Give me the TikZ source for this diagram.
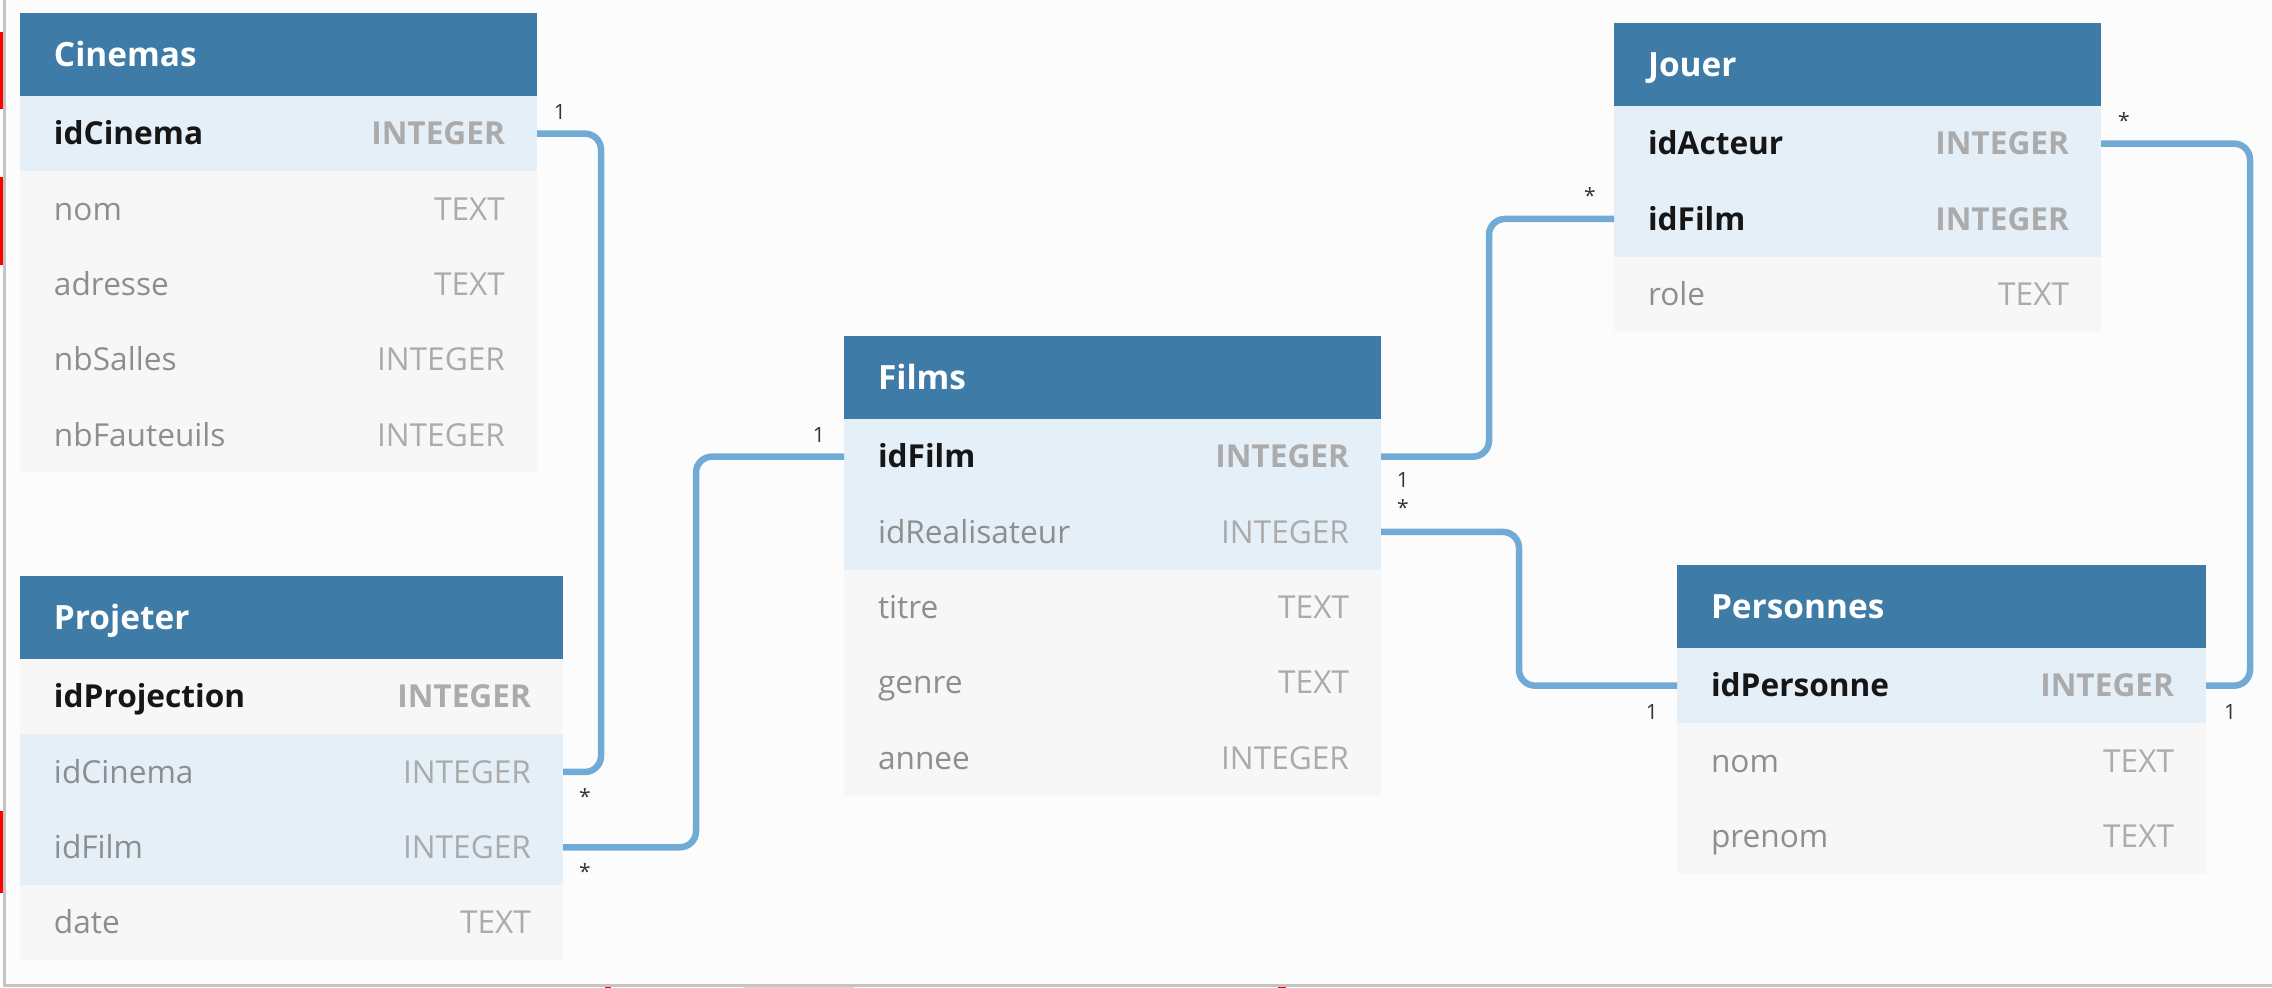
\documentclass[tikz,border=0pt]{standalone}
\usepackage{fontspec}
\setmainfont{Open Sans}
\usetikzlibrary{positioning}

\definecolor{headblue}{HTML}{3E7BA6}
\definecolor{keyfill}{HTML}{E4EFF7}
\definecolor{rowfill}{HTML}{F7F7F7}
\definecolor{pagefill}{HTML}{FCFCFC}
\definecolor{framegray}{HTML}{C4C4C4}
\definecolor{linkblue}{HTML}{72AAD6}
\definecolor{namegray}{HTML}{8E8E8E}
\definecolor{typegray}{HTML}{ABABAB}
\definecolor{keyblack}{HTML}{161616}
\definecolor{cardgray}{HTML}{333333}
\definecolor{pinkmark}{HTML}{F6C9C9}

\tikzset{
  tablehead/.style={fill=headblue, text=white, font=\fontsize{9.5}{11}\selectfont\bfseries, minimum height=0.83cm, inner xsep=0.34cm, inner ysep=0pt, outer sep=0pt, anchor=north west, align=left, text height=6.8pt, text depth=0pt},
  field/.style={minimum height=0.753cm, inner xsep=0.34cm, inner ysep=0pt, outer sep=0pt, align=left, font=\fontsize{9}{11}\selectfont, text=namegray, text height=6.4pt, text depth=0pt},
  keyrow/.style={field, fill=keyfill},
  plainrow/.style={field, fill=rowfill},
  pk/.style={font=\fontsize{9}{11}\selectfont\bfseries, text=keyblack},
  typecell/.style={font=\fontsize{9}{11}\selectfont, text=typegray, inner sep=0pt, outer sep=0pt, text height=6.4pt, text depth=0pt},
  pktype/.style={typecell, font=\fontsize{9}{11}\selectfont\bfseries},
  link/.style={draw=linkblue, line width=0.065cm, rounded corners=0.16cm},
  card/.style={font=\fontsize{6}{7}\selectfont, text=cardgray, inner sep=0pt, text height=4.3pt, text depth=0pt},
  cinemasw/.style={text width=4.49cm},
  projeterw/.style={text width=4.75cm},
  filmsw/.style={text width=4.69cm},
  jouerw/.style={text width=4.19cm},
  personnesw/.style={text width=4.61cm}
}

\begin{document}
\begin{tikzpicture}
\useasboundingbox (0,0) rectangle (22.72,-9.88);
\fill[white] (0,0) rectangle (22.72,-9.88);
\fill[pagefill] (0,0) rectangle (22.72,-9.85);
\draw[framegray, line width=0.025cm] (0.045,0) -- (0.045,-9.855) -- (22.72,-9.855);
% screen marks
\fill[red] (0,-0.32) rectangle (0.03,-1.09);
\fill[red] (0,-1.77) rectangle (0.03,-2.65);
\fill[red] (0,-8.11) rectangle (0.03,-8.93);
\fill[red] (6.05,-9.87) rectangle (6.11,-9.88);
\fill[pinkmark] (7.44,-9.87) rectangle (8.54,-9.88);
\fill[red] (12.78,-9.87) rectangle (12.86,-9.88);

% Cinemas
\node[tablehead, cinemasw] (cinHead) at (0.20,-0.13) {Cinemas};
\node[keyrow, pk, cinemasw, below=0pt of cinHead] (cinId) {idCinema};
\node[plainrow, cinemasw, below=0pt of cinId] (cinNom) {nom};
\node[plainrow, cinemasw, below=0pt of cinNom] (cinAdr) {adresse};
\node[plainrow, cinemasw, below=0pt of cinAdr] (cinSal) {nbSalles};
\node[plainrow, cinemasw, below=0pt of cinSal] (cinFau) {nbFauteuils};
\node[pktype, left=0.32cm of cinId.east] (cinIdT) {INTEGER};
\node[typecell, left=0.32cm of cinNom.east] (cinNomT) {TEXT};
\node[typecell, left=0.32cm of cinAdr.east] (cinAdrT) {TEXT};
\node[typecell, left=0.32cm of cinSal.east] (cinSalT) {INTEGER};
\node[typecell, left=0.32cm of cinFau.east] (cinFauT) {INTEGER};

% Projeter
\node[tablehead, projeterw] (proHead) at (0.20,-5.76) {Projeter};
\node[plainrow, pk, projeterw, below=0pt of proHead] (proId) {idProjection};
\node[keyrow, projeterw, below=0pt of proId] (proCin) {idCinema};
\node[keyrow, projeterw, below=0pt of proCin] (proFilm) {idFilm};
\node[plainrow, projeterw, below=0pt of proFilm] (proDate) {date};
\node[pktype, left=0.32cm of proId.east] (proIdT) {INTEGER};
\node[typecell, left=0.32cm of proCin.east] (proCinT) {INTEGER};
\node[typecell, left=0.32cm of proFilm.east] (proFilmT) {INTEGER};
\node[typecell, left=0.32cm of proDate.east] (proDateT) {TEXT};

% Films
\node[tablehead, filmsw] (filHead) at (8.44,-3.36) {Films};
\node[keyrow, pk, filmsw, below=0pt of filHead] (filId) {idFilm};
\node[keyrow, filmsw, below=0pt of filId] (filReal) {idRealisateur};
\node[plainrow, filmsw, below=0pt of filReal] (filTit) {titre};
\node[plainrow, filmsw, below=0pt of filTit] (filGen) {genre};
\node[plainrow, filmsw, below=0pt of filGen] (filAnn) {annee};
\node[pktype, left=0.32cm of filId.east] (filIdT) {INTEGER};
\node[typecell, left=0.32cm of filReal.east] (filRealT) {INTEGER};
\node[typecell, left=0.32cm of filTit.east] (filTitT) {TEXT};
\node[typecell, left=0.32cm of filGen.east] (filGenT) {TEXT};
\node[typecell, left=0.32cm of filAnn.east] (filAnnT) {INTEGER};

% Jouer
\node[tablehead, jouerw] (jouHead) at (16.14,-0.23) {Jouer};
\node[keyrow, pk, jouerw, below=0pt of jouHead] (jouAct) {idActeur};
\node[keyrow, pk, jouerw, below=0pt of jouAct] (jouFilm) {idFilm};
\node[plainrow, jouerw, below=0pt of jouFilm] (jouRole) {role};
\node[pktype, left=0.32cm of jouAct.east] (jouActT) {INTEGER};
\node[pktype, left=0.32cm of jouFilm.east] (jouFilmT) {INTEGER};
\node[typecell, left=0.32cm of jouRole.east] (jouRoleT) {TEXT};

% Personnes
\node[tablehead, personnesw] (perHead) at (16.77,-5.65) {Personnes};
\node[keyrow, pk, personnesw, below=0pt of perHead] (perId) {idPersonne};
\node[plainrow, personnesw, below=0pt of perId] (perNom) {nom};
\node[plainrow, personnesw, below=0pt of perNom] (perPre) {prenom};
\node[pktype, left=0.32cm of perId.east] (perIdT) {INTEGER};
\node[typecell, left=0.32cm of perNom.east] (perNomT) {TEXT};
\node[typecell, left=0.32cm of perPre.east] (perPreT) {TEXT};

% links
\draw[link] (cinId.east) -- ++(0.64,0) |- (proCin.east);
\draw[link] (proFilm.east) -- ++(1.33,0) |- (filId.west);
\draw[link] (filId.east) -- ++(1.08,0) |- (jouFilm.west);
\draw[link] (filReal.east) -- ++(1.38,0) |- (perId.west);
\draw[link] (jouAct.east) -- ++(1.49,0) |- (perId.east);

% cardinalities
\node[card] (cardCin) at ([shift={(0.23,0.22)}]cinId.east) {1};
\node[card] (cardProCin) at ([shift={(0.22,-0.245)}]proCin.east) {*};
\node[card] (cardProFilm) at ([shift={(0.22,-0.245)}]proFilm.east) {*};
\node[card] (cardFilIn) at ([shift={(-0.25,0.22)}]filId.west) {1};
\node[card] (cardFilOut) at ([shift={(0.22,-0.23)}]filId.east) {1};
\node[card] (cardJouFilm) at ([shift={(-0.24,0.225)}]jouFilm.west) {*};
\node[card] (cardFilReal) at ([shift={(0.22,0.245)}]filReal.east) {*};
\node[card] (cardPerIn) at ([shift={(-0.25,-0.26)}]perId.west) {1};
\node[card] (cardJouAct) at ([shift={(0.23,0.225)}]jouAct.east) {*};
\node[card] (cardPerOut) at ([shift={(0.24,-0.26)}]perId.east) {1};
\end{tikzpicture}
\end{document}
